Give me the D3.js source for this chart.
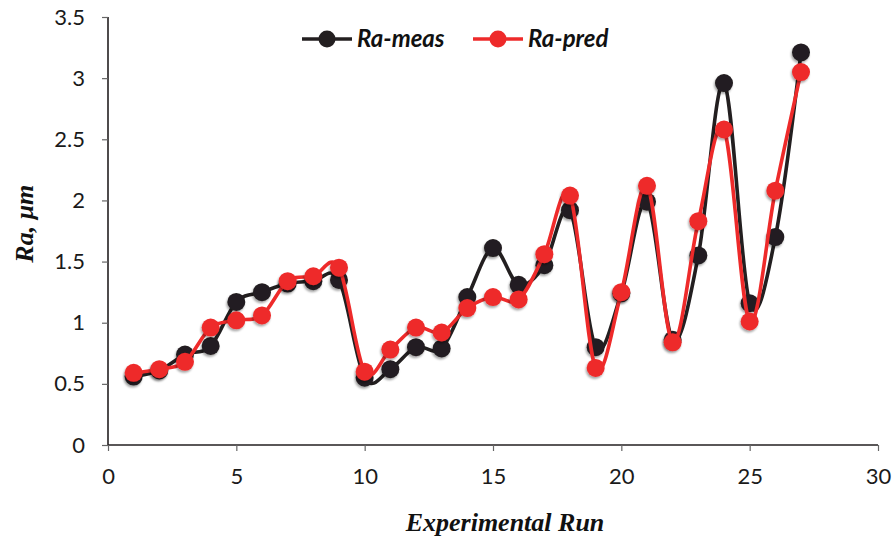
<!DOCTYPE html>
<html>
<head>
<meta charset="utf-8">
<script src="https://cdn.jsdelivr.net/npm/d3@7/dist/d3.min.js"></script>
<style>
  html, body { margin: 0; padding: 0; background: #fff; }
  svg { display: block; }
</style>
</head>
<body>
<svg id="chart" width="894" height="539"></svg>
<script>
// Surface roughness per experimental run: measured vs predicted
const runs = d3.range(1, 28);
const raMeas = [0.56, 0.61, 0.74, 0.81, 1.17, 1.25, 1.32, 1.34, 1.35,
                0.55, 0.62, 0.80, 0.79, 1.21, 1.61, 1.31, 1.47, 1.92,
                0.80, 1.24, 1.99, 0.86, 1.55, 2.96, 1.16, 1.70, 3.21];
const raPred = [0.59, 0.62, 0.68, 0.96, 1.02, 1.06, 1.34, 1.38, 1.45,
                0.60, 0.78, 0.96, 0.92, 1.12, 1.21, 1.19, 1.56, 2.04,
                0.63, 1.25, 2.12, 0.84, 1.83, 2.58, 1.01, 2.08, 3.05];
const xTicks = [0, 5, 10, 15, 20, 25, 30];
const yTicks = [0, 0.5, 1, 1.5, 2, 2.5, 3, 3.5];
const seriesNames = ["Ra-meas", "Ra-pred"];
const seriesColors = ["#231f20", "#ee2a2a"];

const svg = d3.select("#chart");
const x = d3.scaleLinear().domain([0, 30]).range([108, 878]);
const y = d3.scaleLinear().domain([0, 3.5]).range([445, 17]);

const axisColor = "#231f20";
const tickFont = "Lato, 'Open Sans', sans-serif";

// Y axis
const yAxis = svg.append("g").attr("transform", `translate(${x(0)},0)`)
  .call(d3.axisLeft(y).tickValues(yTicks).tickSize(6).tickPadding(17).tickFormat(d => String(d)));
// X axis
const xAxis = svg.append("g").attr("transform", `translate(0,${y(0)})`)
  .call(d3.axisBottom(x).tickValues(xTicks).tickSize(6).tickPadding(17).tickFormat(d => String(d)));

[yAxis, xAxis].forEach(g => {
  g.select(".domain").attr("stroke", axisColor).attr("stroke-width", 1.6);
  g.selectAll(".tick line").attr("stroke", "#666").attr("stroke-width", 1.2);
  g.selectAll(".tick text").attr("fill", "#1a1a1a")
    .style("font-family", tickFont).style("font-size", "22px");
});
// plain axis lines without end caps
yAxis.select(".domain").attr("d", `M0,${y(3.5)}V${y(0)}`);
xAxis.select(".domain").attr("d", `M${x(0)},0H${x(30)}`);

// Axis titles
svg.append("text")
  .attr("x", (x(0) + x(30)) / 2 + 12).attr("y", 531)
  .attr("text-anchor", "middle")
  .style("font-family", "'Liberation Serif', 'Times New Roman', serif")
  .style("font-weight", "bold").style("font-style", "italic")
  .style("font-size", "26px").attr("fill", "#111")
  .text("Experimental Run");

svg.append("text")
  .attr("transform", `translate(33,${y(1.81)}) rotate(-90)`)
  .attr("text-anchor", "middle")
  .style("font-family", "'Liberation Serif', 'Times New Roman', serif")
  .style("font-weight", "bold").style("font-style", "italic")
  .style("font-size", "26px").attr("fill", "#111")
  .text("Ra, μm");

// Soft shadow under the markers
const defs = svg.append("defs");
const f = defs.append("filter").attr("id", "shadow")
  .attr("x", "-50%").attr("y", "-50%").attr("width", "200%").attr("height", "200%");
f.append("feDropShadow").attr("dx", -1).attr("dy", 2).attr("stdDeviation", 1)
  .attr("flood-color", "#000").attr("flood-opacity", 0.35);

// Smoothed connecting lines
const line = d3.line()
  .x((d, i) => x(runs[i]))
  .y(d => y(d))
  .curve(d3.curveCatmullRom.alpha(0));

[raMeas, raPred].forEach((vals, k) => {
  const g = svg.append("g");
  g.append("path").datum(vals)
    .attr("d", line)
    .attr("fill", "none")
    .attr("stroke", seriesColors[k])
    .attr("stroke-width", 3.6)
    .attr("stroke-linejoin", "round");
  g.selectAll("circle").data(vals).enter().append("circle")
    .attr("cx", (d, i) => x(runs[i]))
    .attr("cy", d => y(d))
    .attr("r", 9)
    .attr("fill", seriesColors[k])
    .attr("filter", "url(#shadow)");
});

// Legend
const legend = svg.append("g");
const legendX = [302, 473];
seriesNames.forEach((name, k) => {
  const lx = legendX[k];
  legend.append("line")
    .attr("x1", lx).attr("x2", lx + 50).attr("y1", 39).attr("y2", 39)
    .attr("stroke", seriesColors[k]).attr("stroke-width", 3.6);
  legend.append("circle")
    .attr("cx", lx + 25).attr("cy", 39).attr("r", 8.5)
    .attr("fill", seriesColors[k]);
  legend.append("text")
    .attr("x", lx + 55).attr("y", 47)
    .style("font-family", "Lato, 'Open Sans', sans-serif")
    .style("font-weight", "bold").style("font-style", "italic")
    .style("font-size", "24px").attr("fill", "#111")
    .text(name);
});
</script>
</body>
</html>
